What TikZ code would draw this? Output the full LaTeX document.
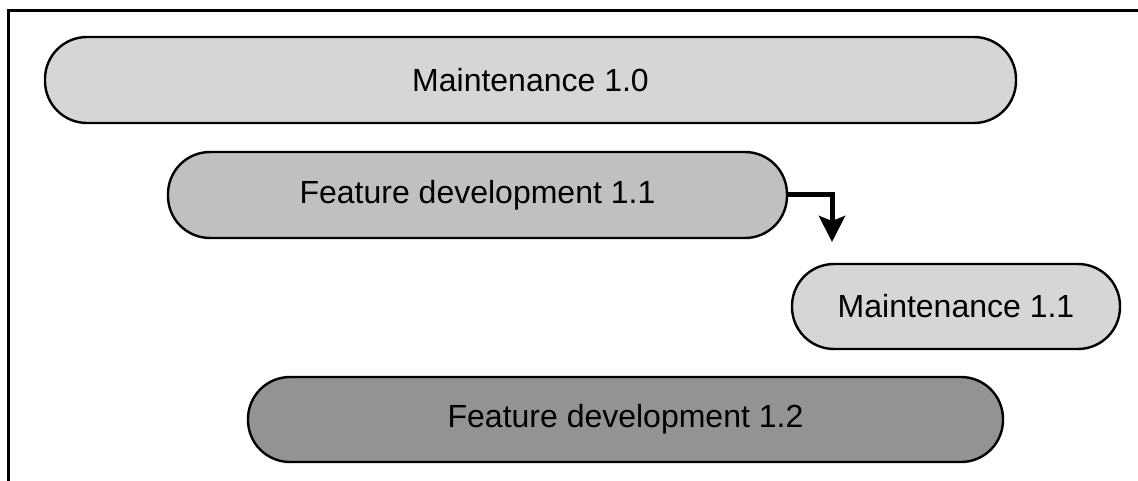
\documentclass[tikz,border=0pt]{standalone}
\usepackage{fontspec}
\setmainfont{Liberation Sans}
\usetikzlibrary{arrows.meta}
\definecolor{palegrey}{RGB}{214,214,214}
\definecolor{midgrey}{RGB}{192,192,192}
\definecolor{darkgrey}{RGB}{147,147,147}
\begin{document}
\begin{tikzpicture}[x=1pt,y=-1pt,
  phase/.style={draw=black, line width=2.4pt, rounded corners=42pt,
    inner sep=0pt, font=\fontsize{32}{38}\selectfont, text=black},
  flow/.style={line width=5pt, -{Stealth[length=26pt,width=26pt,inset=5pt]}}]
  \useasboundingbox (0,0) rectangle (1138,481);
  % open frame: top and left edges only
  \draw[line width=3pt] (1138,11) -- (8,11) -- (8,481);
  \node[phase, fill=palegrey, minimum width=971pt, minimum height=86pt] (m10) at (530.5,80) {Maintenance 1.0};
  \node[phase, fill=midgrey, minimum width=619pt, minimum height=86pt] (f11) at (477.5,195) {Feature development 1.1};
  \node[phase, fill=palegrey, minimum width=328pt, minimum height=85pt] (m11) at (956,306.5) {Maintenance 1.1};
  \node[phase, fill=darkgrey, minimum width=755pt, minimum height=85pt] (f12) at (625.5,419.5) {Feature development 1.2};
  \coordinate (branch) at (832,242);
  \draw[flow] (f11.east) -| (branch);
\end{tikzpicture}
\end{document}
